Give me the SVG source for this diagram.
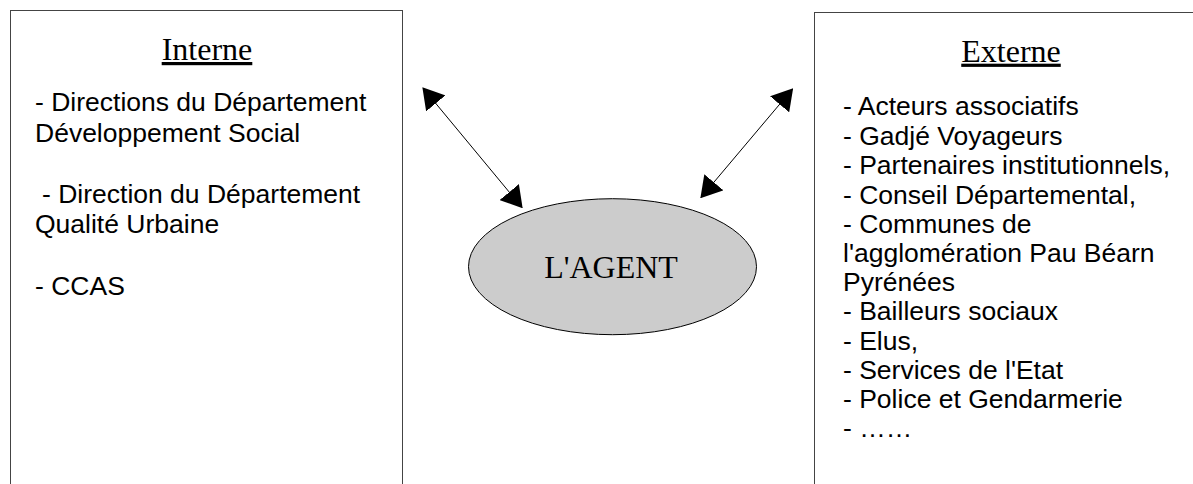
<svg xmlns="http://www.w3.org/2000/svg" width="1193" height="484" viewBox="0 0 1193 484">
<style>
.box{fill:#fff;stroke:#444;stroke-width:1}
.title{font-family:"Liberation Serif",serif;font-size:32px;fill:#000;text-decoration:underline}
.body{font-family:"Liberation Sans",Arial,sans-serif;font-size:26.5px;fill:#000}
.agent{font-family:"Liberation Serif",serif;font-size:32px;fill:#000}
.conn{stroke:#000;stroke-width:1;fill:none;marker-start:url(#ah);marker-end:url(#ah)}
</style>
<defs>
<marker id="ah" viewBox="0 0 21 25" refX="20" refY="12.5" markerWidth="21" markerHeight="25" markerUnits="userSpaceOnUse" orient="auto-start-reverse">
<path d="M0,0 L21,12.5 L0,25 z" fill="#000"/>
</marker>
</defs>
<rect width="1193" height="484" fill="#fff"/>
<g id="interne">
<rect class="box" x="10.5" y="10.5" width="392" height="500"/>
<text class="title" x="207" y="60" text-anchor="middle">Interne</text>
<text class="body" x="35" y="111">- Directions du Département</text>
<text class="body" x="35" y="141.7">Développement Social</text>
<text class="body" x="42" y="203.3">- Direction du Département</text>
<text class="body" x="35" y="233.3">Qualité Urbaine</text>
<text class="body" x="35" y="295">- CCAS</text>
</g>
<g id="externe">
<rect class="box" x="814.5" y="12.5" width="400" height="500"/>
<text class="title" x="1011" y="61.7" text-anchor="middle">Externe</text>
<g class="body">
<text x="843" y="115">- Acteurs associatifs</text>
<text x="843" y="145.2">- Gadjé Voyageurs</text>
<text x="843" y="174.4">- Partenaires institutionnels,</text>
<text x="843" y="203.6">- Conseil Départemental,</text>
<text x="843" y="232.8">- Communes de</text>
<text x="843" y="262">l'agglomération Pau Béarn</text>
<text x="843" y="291.2">Pyrénées</text>
<text x="843" y="320.4">- Bailleurs sociaux</text>
<text x="843" y="349.6">- Elus,</text>
<text x="843" y="378.8">- Services de l'Etat</text>
<text x="843" y="408">- Police et Gendarmerie</text>
<text x="843" y="437.2">- ……</text>
</g>
</g>
<g id="agent">
<ellipse cx="612.5" cy="266.7" rx="144" ry="68" fill="#cccccc" stroke="#000" stroke-width="1"/>
<text class="agent" x="611" y="278.3" text-anchor="middle">L'AGENT</text>
</g>
<g id="connectors">
<line class="conn" x1="423" y1="88" x2="522" y2="207.5"/>
<line class="conn" x1="792.5" y1="89" x2="701" y2="197.5"/>
</g>
</svg>
